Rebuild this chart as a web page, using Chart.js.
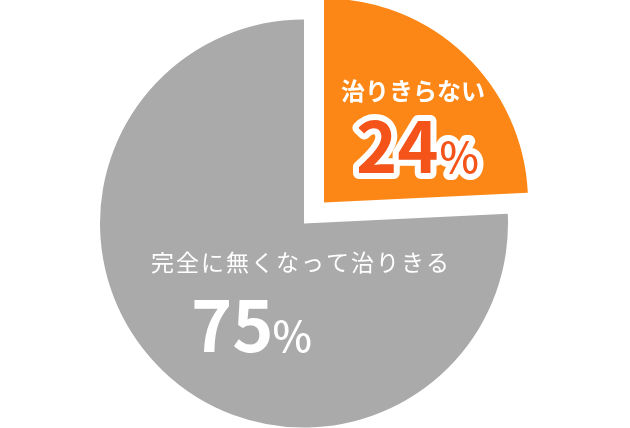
<!DOCTYPE html>
<html lang="ja">
<head>
<meta charset="utf-8">
<title>治りきらない / 完全に無くなって治りきる</title>
<script src="https://cdn.jsdelivr.net/npm/chart.js@4/dist/chart.umd.min.js"></script>
<style>
  html, body { margin:0; padding:0; background:#fff; }
  #wrap { width:630px; height:428px; position:relative; }
</style>
</head>
<body>
<div id="wrap"><canvas id="pie"></canvas></div>
<script>
// データ
const LABELS = ["治りきらない", "完全に無くなって治りきる"];
const VALUES = [24, 75];
const COLORS = ["#fd8716", "#aaaaaa"];
const OFFSETS = [116, 0];   // v4 は offset/4 だけずらす

const FONT = '"Noto Sans CJK JP", "Noto Sans", sans-serif';

// ラベル描画
const labelPlugin = {
  id: "pieLabels",
  afterDatasetsDraw(chart){
    const arc = chart.getDatasetMeta(0).data[0];
    const cx = arc.x, cy = arc.y;
    const ctx = chart.ctx;
    ctx.save();

    // 治りきらない
    ctx.fillStyle = "#fff";
    ctx.textAlign = "center";
    ctx.textBaseline = "middle";
    ctx.font = `bold 24px ${FONT}`;
    ctx.fillText(LABELS[0], cx + 109, cy - 133);

    // 24%
    ctx.textAlign = "left";
    ctx.textBaseline = "alphabetic";
    const num1 = String(VALUES[0]);
    const bigFont = `bold 70px ${FONT}`;
    const pctFont = `500 42px ${FONT}`;
    ctx.font = bigFont;
    const w1 = ctx.measureText(num1).width;
    const x1 = cx + 52, y1 = cy - 51;
    ctx.lineJoin = "round";
    ctx.lineWidth = 12;
    ctx.strokeStyle = "#fff";
    ctx.strokeText(num1, x1, y1);
    ctx.font = pctFont;
    ctx.strokeText("%", x1 + w1 + 1, y1);
    ctx.fillStyle = "#f4531a";
    ctx.fillText("%", x1 + w1 + 1, y1);
    ctx.font = bigFont;
    ctx.fillText(num1, x1, y1);

    // 完全に無くなって治りきる
    ctx.fillStyle = "#fff";
    ctx.textAlign = "center";
    ctx.textBaseline = "middle";
    ctx.font = `400 23px ${FONT}`;
    ctx.letterSpacing = "2px";
    ctx.fillText(LABELS[1], cx - 3, cy + 39);
    ctx.letterSpacing = "0px";

    // 75%
    ctx.textAlign = "left";
    ctx.textBaseline = "alphabetic";
    const num2 = String(VALUES[1]);
    ctx.font = bigFont;
    const w2 = ctx.measureText(num2).width;
    const x2 = cx - 113, y2 = cy + 128;
    ctx.fillText(num2, x2, y2);
    ctx.font = pctFont;
    ctx.fillText("%", x2 + w2 - 1, y2);

    ctx.restore();
  }
};

new Chart(document.getElementById("pie"), {
  type: "pie",
  data: {
    labels: LABELS,
    datasets: [{
      data: VALUES,
      backgroundColor: COLORS,
      borderWidth: 0,
      offset: OFFSETS,
      hoverOffset: 0,
      clip: false
    }]
  },
  options: {
    responsive: true,
    maintainAspectRatio: false,
    animation: false,
    radius: 204,
    layout: { padding: { left:0, right:22, top:19, bottom:0 } },
    plugins: {
      legend: { display:false },
      tooltip: { enabled:false }
    }
  },
  plugins: [labelPlugin]
});
</script>
</body>
</html>
